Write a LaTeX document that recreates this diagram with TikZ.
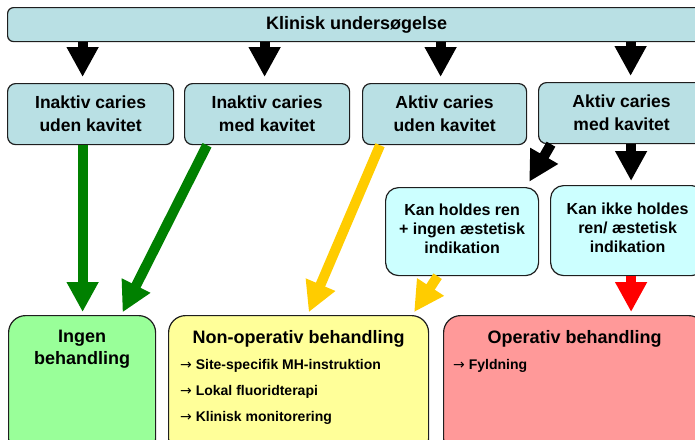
\documentclass[tikz,border=0pt]{standalone}
\usepackage{fontspec}
\setmainfont{Liberation Sans}
\newfontfamily\arrowfont{DejaVu Sans}
\usepackage{xcolor}
\definecolor{kbox}{RGB}{185,224,228}
\definecolor{kcyan}{RGB}{204,255,255}
\definecolor{kgreen}{RGB}{153,255,153}
\definecolor{kyellow}{RGB}{255,255,153}
\definecolor{kred}{RGB}{255,153,153}
\definecolor{agreen}{RGB}{0,128,0}
\definecolor{ayellow}{RGB}{255,204,0}
\definecolor{ared}{RGB}{255,0,0}
\definecolor{kline}{RGB}{30,30,30}
\usetikzlibrary{arrows.meta,positioning,calc}
\newcommand{\pil}{{\arrowfont\mdseries →}}

\begin{document}
\begin{tikzpicture}[x=1pt, y=-1pt,
  bx/.style={draw=kline, line width=1.2pt, rounded corners=8pt, fill=kbox, align=center, inner sep=0pt, anchor=north west,
    font=\bfseries\fontsize{17.5}{23}\selectfont},
  sub/.style={bx, fill=kcyan, rounded corners=13pt, font=\bfseries\fontsize{16}{19}\selectfont},
  res/.style={bx, rounded corners=17pt, minimum height=140pt},
  ttl/.style={inner sep=0pt, align=center, font=\bfseries\fontsize{18}{22}\selectfont},
  itm/.style={inner sep=0pt, align=left, font=\bfseries\fontsize{14}{26}\selectfont},
  arr/.style={line width=10pt, -{Triangle[width=30pt,length=30pt]}, shorten >=3pt}]
\useasboundingbox (0,0) rectangle (695,439);
% Top row
\node[bx, rounded corners=6pt, minimum width=698pt, minimum height=34pt, font=\bfseries\fontsize{18}{22}\selectfont] (klinisk) at (7,7) {Klinisk unders\o gelse};
\node[bx, minimum width=166pt, minimum height=61pt] (inuden) at (7,83) {Inaktiv caries\\uden kavitet};
\node[bx, minimum width=165pt, minimum height=61pt] (inmed) at (184,83) {Inaktiv caries\\med kavitet};
\node[bx, minimum width=164pt, minimum height=61pt] (akuden) at (362,83) {Aktiv caries\\uden kavitet};
\node[bx, minimum width=166pt, minimum height=61pt] (akmed) at (538,82) {Aktiv caries\\med kavitet};
% Sub cases
\node[sub, minimum width=153pt, minimum height=88pt] (holdes) at (385,187) {Kan holdes ren\\+ ingen \ae stetisk\\indikation\\[-13pt]\mbox{}};
\node[sub, minimum width=154pt, minimum height=90pt] (ikke) at (550,185) {Kan ikke holdes\\ren/ \ae stetisk\\indikation\\[-13pt]\mbox{}};
% Treatment
\node[res, fill=kgreen, minimum width=147pt] (ingen) at (8,315) {};
\node[res, fill=kyellow, minimum width=260pt] (nonop) at (168,315) {};
\node[res, fill=kred, minimum width=262pt] (operativ) at (443,315) {};
\node[ttl, below=15pt of ingen.north] (ingentxt) {Ingen\\behandling};
\node[ttl, below=15pt of nonop.north] (nonoptxt) {Non-operativ behandling};
\node[ttl, below=15pt of operativ.north] (operativtxt) {Operativ behandling};
\node[itm, below right=44pt and 12pt of nonop.north west] (nonopitems) {\pil\ Site-specifik MH-instruktion\\\pil\ Lokal fluoridterapi\\\pil\ Klinisk monitorering};
\node[itm, below right=44pt and 10pt of operativ.north west] (operativitems) {\pil\ Fyldning};
% Arrows
\draw[arr, shorten >=6pt] ([xshift=-8pt]inuden.north |- klinisk.south) -- ([xshift=-8pt]inuden.north);
\draw[arr, shorten >=6pt] ([xshift=-2.5pt]inmed.north |- klinisk.south) -- ([xshift=-2.5pt]inmed.north);
\draw[arr, shorten >=6pt] ([xshift=-4pt]akuden.north |- klinisk.south) -- ([xshift=-4pt]akuden.north);
\draw[arr, shorten >=6pt] ([xshift=9pt]akmed.north |- klinisk.south) -- ([xshift=9pt]akmed.north);
\draw[arr, agreen] ([xshift=-8pt]inuden.south) -- ([xshift=-8pt]inuden.south |- ingen.north);
\draw[arr, agreen] ([xshift=23pt]inmed.south west) -- ([xshift=-35pt]ingen.north east);
\draw[arr, ayellow] ([xshift=18pt]akuden.south west) -- ([xshift=9pt]nonop.north);
\draw[arr, shorten >=6pt] ([xshift=13pt]akmed.south west) -- ([xshift=-13pt]holdes.north east);
\draw[arr, shorten >=4pt] ([xshift=9.5pt]akmed.south) -- ([xshift=9.5pt]akmed.south |- ikke.north);
\draw[arr, ayellow, shorten >=3.5pt] ([xshift=-24.5pt]holdes.south) -- ([xshift=-17pt]nonop.north east);
\draw[arr, ared] ([xshift=3.5pt]ikke.south) -- ([xshift=3.5pt]ikke.south |- operativ.north);
\end{tikzpicture}
\end{document}
